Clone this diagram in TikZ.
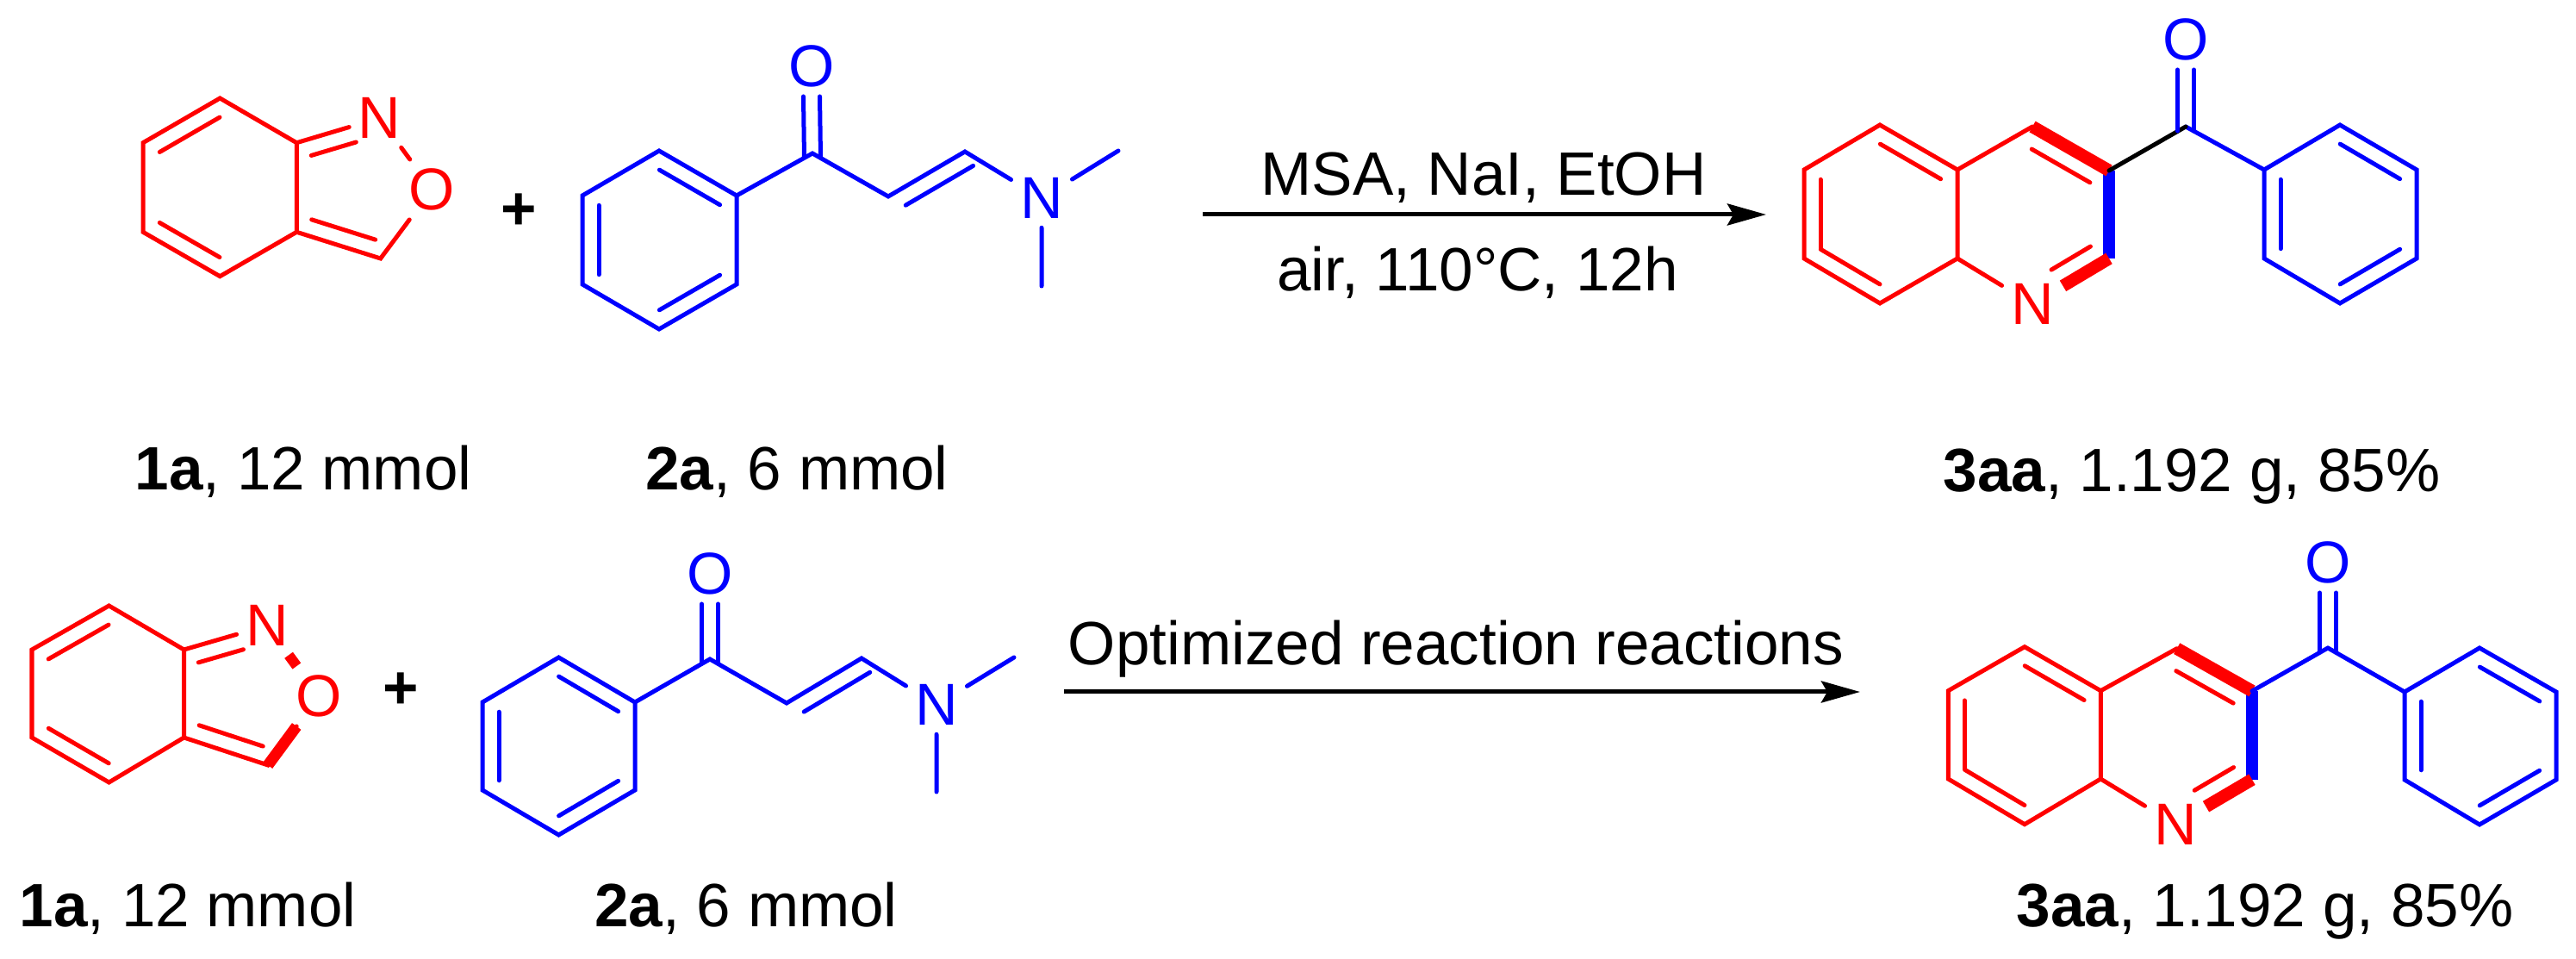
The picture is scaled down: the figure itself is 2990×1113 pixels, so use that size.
\documentclass[tikz,border=0pt]{standalone}
\usepackage{fontspec}
\setmainfont{Liberation Sans}
\usetikzlibrary{arrows.meta,calc}

% short lines of the double bonds, on the right hand of a -> b
\newcommand{\innerbonds}[3]{%
\foreach \a/\b/\f/\g in {#3}
\draw[#1] ($(\a)!\f!(\b)!#2!-90:(\b)$) -- ($(\b)!\g!(\a)!#2!90:(\a)$);
}

\begin{document}
\begin{tikzpicture}
	[x=0.01cm,y=-0.01cm,
	 bond/.style={line width=.05cm,line cap=round},
	 redbond/.style={bond,red},
	 bluebond/.style={bond,blue},
	 boldbond/.style={line width=.145cm},
	 atom/.style={inner sep=.1cm,font=\fontsize{19.5}{24}\selectfont},
	 redatom/.style={atom,text=red},
	 blueatom/.style={atom,text=blue},
	 plainlabel/.style={anchor=base,inner sep=0pt,font=\fontsize{20.2}{24}\selectfont},
	 rxnarrow/.style={line width=.05cm,-{Stealth[length=.45cm,width=.25cm,inset=.07cm]}}]
\useasboundingbox (0,0) rectangle (2990,1113);

% atoms of 1a, 2a and 3aa, upper row
\foreach \n/\x/\y in {a1/255.3/114,a2/344.3/165.7,a3/344.3/269.3,a4/255.3/320.7,a5/166/269.3,a6/166/165.7,a7/441.7/300,
	b1/765/175,b2/855/227,b3/855/330,b4/765/382,b5/676/330,b6/676/227,b7/943/178,b8/1031/228,b9/1120/176,
	b10/1298/175,b11/1209/332,
	c1/2182/145,c2/2272/197,c3/2272/300,c4/2182/352,c5/2094/300,c6/2094/197,c7/2359/147,c8/2448/198,c9/2448/300,
	c10/2537/147,c11/2628/197,c12/2716/145,c13/2805/197,c14/2805/300,c15/2716/352,c16/2628/300}
\coordinate (\n) at (\x,\y);
% lower row
\foreach \n/\x/\y in {d1/126.5/703,d2/213.5/754,d3/213.5/856,d4/126.5/908,d5/37/856,d6/37/754,d7/311/888,
	e1/648.5/763,e2/737/815,e3/737/917,e4/648.5/969,e5/560/917,e6/560/815,e7/824/765,e8/913/816,e9/1000/764,
	e10/1177/763,e11/1087/919,
	f1/2350/750.7,f2/2438.3/801.7,f3/2438.3/904,f4/2350/956.7,f5/2261.3/904,f6/2261.3/801.7,f7/2526.7/752.7,f8/2614/802,f9/2614/904.7,
	f10/2702/752,f11/2791/803,f12/2878/752,f13/2967/803,f14/2967/905,f15/2878/957,f16/2791/905}
\coordinate (\n) at (\x,\y);

\node[redatom] (aN) at (440.7,137) {N};
\node[redatom] (aO) at (501.3,220) {O};
\node[blueatom] (bO) at (942,77) {O};
\node[blueatom] (bN) at (1209,230) {N};
\node[redatom] (cN) at (2359,353) {N};
\node[blueatom] (cO) at (2537,46) {O};
\node[redatom] (dN) at (310,726) {N};
\node[redatom] (dO) at (370,808) {O};
\node[blueatom] (eO) at (824,666) {O};
\node[blueatom] (eN) at (1087,818) {N};
\node[redatom] (fN) at (2525,957) {N};
\node[blueatom] (fO) at (2702,653) {O};

% 1a
\foreach \p in {a,d} {
\draw[redbond] (\p1) -- (\p2) -- (\p3) -- (\p4) -- (\p5) -- (\p6) -- cycle
	(\p2) -- (\p N) (\p O) -- (\p7) -- (\p3);
\innerbonds{redbond}{.19cm}{\p6/\p1/.11/.11,\p4/\p5/.11/.11,\p2/\p N/.12/.34,\p7/\p3/.12/.12}
}
\draw[redbond] (aN) -- (aO);
\draw[red,line width=.12cm] (dN) -- (dO);
\draw[red,line width=.13cm] (dO) -- (d7);

% 2a
\foreach \p in {b,e} {
\draw[bluebond] (\p1) -- (\p2) -- (\p3) -- (\p4) -- (\p5) -- (\p6) -- cycle
	(\p2) -- (\p7) -- (\p8) -- (\p9) -- (\p N) -- (\p10) (\p N) -- (\p11);
\innerbonds{bluebond}{.19cm}{\p1/\p2/.11/.11,\p3/\p4/.11/.11,\p5/\p6/.11/.11,\p8/\p9/.12/0}
\foreach \s in {-.095,.095}
\draw[bluebond] ($(\p7)+(\s cm,-.05cm)$) -- ($(\p O.south)+(\s cm,0)$);
}

% 3aa
\foreach \p/\l in {c/black,f/blue} {
\draw[redbond] (\p1) -- (\p2) -- (\p3) -- (\p4) -- (\p5) -- (\p6) -- cycle
	(\p2) -- (\p7) (\p3) -- (\p N);
\innerbonds{redbond}{.19cm}{\p1/\p2/.11/.11,\p4/\p5/.11/.11,\p5/\p6/.11/.11}
\innerbonds{redbond}{.23cm}{\p7/\p8/.12/.12,\p9/\p N/.11/.38}
\draw[boldbond,blue] (\p8) -- (\p9);
\draw[boldbond,red] (\p7) -- (\p8);
\draw[boldbond,red] (\p9) -- (\p N);
\draw[bluebond] (\p11) -- (\p12) -- (\p13) -- (\p14) -- (\p15) -- (\p16) -- cycle
	(\p10) -- (\p11);
\draw[bond,\l] (\p8) -- (\p10);
\innerbonds{bluebond}{.19cm}{\p12/\p13/.11/.11,\p14/\p15/.11/.11,\p16/\p11/.11/.11}
\foreach \s in {-.095,.095}
\draw[bluebond] ($(\p10)+(\s cm,-.05cm)$) -- ($(\p O.south)+(\s cm,0)$);
}

% plus signs, arrows
\node[plainlabel] (plus1) at (602,267) {\textbf{+}};
\node[plainlabel] (plus2) at (465,823) {\textbf{+}};
\coordinate (s1) at (1396,249);
\coordinate (t1) at (2050,249);
\coordinate (s2) at (1235,803);
\coordinate (t2) at (2159,803);
\draw[rxnarrow] (s1) -- (t1);
\draw[rxnarrow] (s2) -- (t2);
\node[plainlabel] (cond1) at (1722,227) {MSA, NaI, EtOH};
\node[plainlabel] (cond2) at (1715,338) {air, 110°C, 12h};
\node[plainlabel] (cond3) at (1690,772) {Optimized reaction reactions};

% compound labels
\node[plainlabel] (la) at (352,569) {\textbf{1a}, 12 mmol};
\node[plainlabel] (lb) at (925,569) {\textbf{2a}, 6 mmol};
\node[plainlabel] (lc) at (2544,571) {\textbf{3aa}, 1.192 g, 85\%};
\node[plainlabel] (ld) at (218,1075) {\textbf{1a}, 12 mmol};
\node[plainlabel] (le) at (866,1075) {\textbf{2a}, 6 mmol};
\node[plainlabel] (lf) at (2629,1075) {\textbf{3aa}, 1.192 g, 85\%};
\end{tikzpicture}
\end{document}
